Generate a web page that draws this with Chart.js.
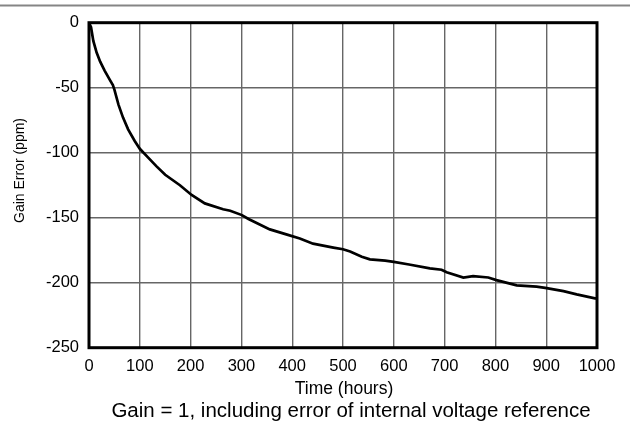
<!DOCTYPE html>
<html>
<head>
<meta charset="utf-8">
<script src="https://cdn.jsdelivr.net/npm/chart.js@4"></script>
<style>
  html, body { margin: 0; padding: 0; background: #fff; }
  #wrap { width: 630px; height: 432px; position: relative; }
</style>
</head>
<body>
<div id="wrap"><canvas id="c" width="630" height="432"></canvas></div>
<script>
const hours = [0, 4, 8.5, 15, 22, 31, 41, 47, 50, 58, 67, 77, 90, 100, 117, 133, 150, 179, 202, 228, 264, 278, 301, 314, 356, 390, 415, 441, 481, 500, 514, 537, 553, 583, 600, 630, 671, 694, 704, 737, 756, 786, 802, 842, 881, 898, 934, 960, 996, 1000];
const gainError = [0, -3.5, -14, -23, -30, -37, -44, -48, -51.5, -63, -73, -82, -91, -97, -104, -110.5, -117, -125, -132.5, -139, -143.5, -144.6, -148, -151, -159, -163, -166, -170, -173, -174.3, -176, -180, -182, -183, -184, -186, -189, -190, -192, -196, -195, -196, -198, -202, -203, -204, -206.5, -209, -212, -212];
const xTicks = [0, 100, 200, 300, 400, 500, 600, 700, 800, 900, 1000];
const yTicks = [0, -50, -100, -150, -200, -250];
const xTitle = 'Time (hours)';
const yTitle = 'Gain Error (ppm)';
const caption = 'Gain = 1, including error of internal voltage reference';

const FONT = "'Liberation Sans', Arial, sans-serif";

const extras = {
  id: 'extras',
  beforeDraw(chart) {
    const ctx = chart.ctx;
    ctx.save();
    ctx.fillStyle = '#fff';
    ctx.fillRect(0, 0, chart.width, chart.height);
    ctx.strokeStyle = '#858585';
    ctx.lineWidth = 2;
    ctx.beginPath();
    ctx.moveTo(0, 5.5);
    ctx.lineTo(chart.width, 5.5);
    ctx.stroke();
    ctx.restore();
  },
  afterDraw(chart) {
    const ctx = chart.ctx;
    const a = chart.chartArea;
    ctx.save();
    ctx.strokeStyle = '#000';
    ctx.lineWidth = 3;
    ctx.strokeRect(a.left, a.top, a.right - a.left, a.bottom - a.top);
    ctx.fillStyle = '#000';
    ctx.textAlign = 'center';
    ctx.textBaseline = 'middle';
    ctx.font = '17.5px ' + FONT;
    ctx.fillText(xTitle, 344, 389);
    ctx.font = '20.5px ' + FONT;
    ctx.fillText(caption, 351, 411);
    ctx.translate(20, 170.5);
    ctx.rotate(-Math.PI / 2);
    ctx.font = '14px ' + FONT;
    ctx.fillText(yTitle, 0, 0);
    ctx.restore();
  }
};

new Chart(document.getElementById('c'), {
  type: 'line',
  data: {
    datasets: [{
      data: hours.map((h, i) => ({ x: h, y: gainError[i] })),
      borderColor: '#000',
      borderWidth: 2.7,
      pointRadius: 0,
      tension: 0,
      fill: false
    }]
  },
  options: {
    responsive: false,
    animation: false,
    layout: { padding: { top: 22.7, right: 33, left: 0, bottom: 0 } },
    plugins: { legend: { display: false }, tooltip: { enabled: false } },
    scales: {
      x: {
        type: 'linear',
        min: 0, max: 1000,
        afterFit: s => { s.height = 84.3; },
        afterBuildTicks: s => { s.ticks = xTicks.map(v => ({ value: v })); },
        grid: { color: '#666', lineWidth: 1.4, drawTicks: false },
        border: { display: false },
        ticks: { color: '#000', font: { family: FONT, size: 16.5 }, padding: 9, maxRotation: 0, autoSkip: false,
                 callback: v => String(v) }
      },
      y: {
        type: 'linear',
        min: -250, max: 0,
        afterFit: s => { s.width = 89; },
        afterBuildTicks: s => { s.ticks = yTicks.map(v => ({ value: v })); },
        grid: { color: '#666', lineWidth: 1.4, drawTicks: false },
        border: { display: false },
        ticks: { color: '#000', font: { family: FONT, size: 16.5 }, padding: 10, callback: v => String(v) }
      }
    }
  },
  plugins: [extras]
});
</script>
</body>
</html>
